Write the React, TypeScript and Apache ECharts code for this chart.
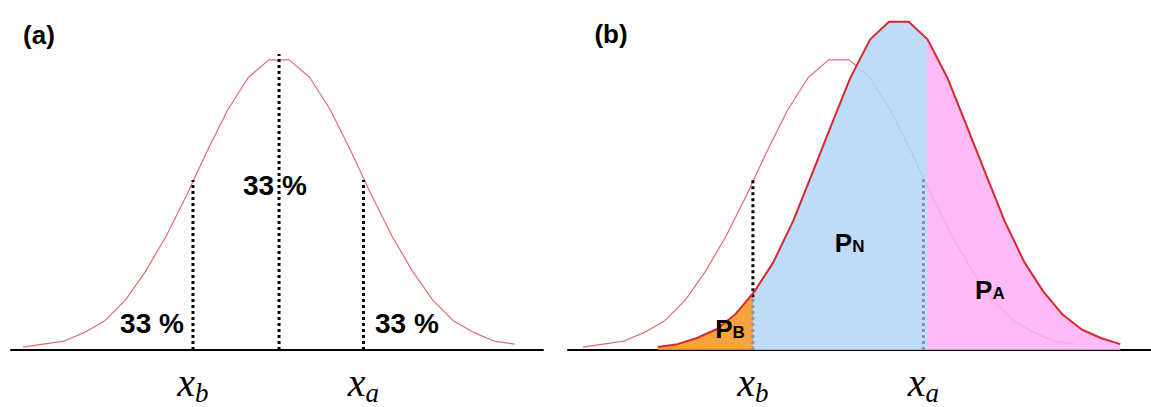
import React, { useEffect, useRef } from "react";
import * as echarts from "echarts";

// x in units of the original standard deviation, y relative to the original peak
const thinX = [-3.125, -2.875, -2.625, -2.375, -2.125, -1.875, -1.625, -1.375, -1.125, -0.875, -0.625, -0.375, -0.125,
  0.125, 0.375, 0.625, 0.875, 1.125, 1.375, 1.625, 1.875, 2.125, 2.375, 2.625, 2.875];
const thinY = [0.01, 0.02, 0.03, 0.06, 0.1, 0.17, 0.27, 0.39, 0.53, 0.68, 0.82, 0.93, 0.99,
  0.99, 0.93, 0.82, 0.68, 0.53, 0.39, 0.27, 0.17, 0.1, 0.06, 0.03, 0.02];

const thickX = [-2.21, -1.97, -1.74, -1.5, -1.27, -1.03, -0.8, -0.56, -0.33, -0.09, 0.14, 0.38, 0.61,
  0.85, 1.08, 1.32, 1.55, 1.79, 2.02, 2.26, 2.49, 2.73, 2.96, 3.2, 3.43];
const thickY = [0.01, 0.02, 0.04, 0.07, 0.12, 0.2, 0.3, 0.44, 0.6, 0.77, 0.93, 1.06, 1.12,
  1.12, 1.06, 0.93, 0.77, 0.6, 0.44, 0.3, 0.2, 0.12, 0.07, 0.04, 0.02];

const xb = -1.05;
const xa = 1.03;
const meanX = 0;
const fillSplit = [-1.05, 1.07];

// dotted lines: [x, yFrom, yTo]
const dottedA = [
  [xb, 0, 0.58],
  [meanX, 0, 1.01],
  [xa, 0, 0.58],
];
const dottedBBlack = [[xb, 0.18, 0.58]];
const dottedBGrey = [
  [xb, 0, 0.18],
  [xa, 0, 0.59],
];

const pctLabels = ["33 %", "33 %", "33 %"];
const pctPos = [
  [-1.55, 0.092],
  [-0.05, 0.563],
  [1.56, 0.092],
];
const pLabels = ["B", "N", "A"];
const pPos = [
  [-1.33, 0.072],
  [0.13, 0.365],
  [1.84, 0.205],
];

const SANS = '"Liberation Sans", Arial, Helvetica, sans-serif';
const SERIF = '"Liberation Serif", "Times New Roman", serif';

export default function App() {
  const ref = useRef<HTMLDivElement>(null);
  useEffect(() => {
    document.body.style.margin = "0";
    const chart = echarts.init(ref.current!, null, { renderer: "svg" });
    const zip = (xs: number[], ys: number[]) => xs.map((x, i) => [x, ys[i]]);
    const thin = zip(thinX, thinY);
    const thick = zip(thickX, thickY);

    const xAxisBase = (gridIndex: number, min: number, max: number) => ({
      type: "value",
      gridIndex,
      min,
      max,
      splitLine: { show: false },
      axisTick: { show: false },
      axisLine: { show: true, onZero: true, lineStyle: { color: "#000", width: 2 } },
      axisLabel: {
        customValues: [xb, xa],
        margin: 16,
        formatter: (v: number) => (v < 0 ? "{x|x}{s|b}" : "{x|x}{s|a}"),
        rich: {
          x: {
            fontFamily: SERIF,
            fontStyle: "italic",
            fontSize: 40,
            lineHeight: 40,
            padding: [0, 0, 4, 0],
            verticalAlign: "bottom",
            color: "#000",
          },
          s: {
            fontFamily: SERIF,
            fontStyle: "italic",
            fontSize: 27,
            lineHeight: 27,
            verticalAlign: "bottom",
            color: "#000",
          },
        },
      },
    });
    const yAxisBase = (gridIndex: number) => ({
      type: "value",
      gridIndex,
      min: 0,
      max: 1.15,
      show: false,
      splitLine: { show: false },
    });

    const dotted = (seg: number[], idx: number, color: string, z: number) => ({
      type: "line",
      xAxisIndex: idx,
      yAxisIndex: idx,
      data: [
        [seg[0], seg[1]],
        [seg[0], seg[2]],
      ],
      symbol: "none",
      silent: true,
      z,
      lineStyle: { color, width: 3, type: [3, 3] },
    });

    const series: any[] = [];
    // Panel (a)
    series.push({
      type: "line",
      xAxisIndex: 0,
      yAxisIndex: 0,
      data: thin,
      symbol: "none",
      z: 2,
      lineStyle: { color: "#E46C72", width: 1.2 },
    });
    dottedA.forEach((s) => series.push(dotted(s, 0, "#000", 3)));
    series.push({
      type: "scatter",
      xAxisIndex: 0,
      yAxisIndex: 0,
      symbolSize: 0,
      z: 5,
      itemStyle: { opacity: 1 },
      data: pctPos.map((p, i) => ({ value: p, name: pctLabels[i] })),
      label: {
        show: true,
        position: "inside",
        formatter: (p: any) => p.name,
        fontFamily: SANS,
        fontWeight: "bold",
        fontSize: 28,
        color: "#000",
        opacity: 1,
      },
    });
    // Panel (b)
    series.push({
      type: "line",
      xAxisIndex: 1,
      yAxisIndex: 1,
      data: thin,
      symbol: "none",
      z: 2,
      lineStyle: { color: "#E46C72", width: 1.2 },
    });
    const fillIndex = series.length;
    series.push({
      type: "line",
      xAxisIndex: 1,
      yAxisIndex: 1,
      data: thick,
      symbol: "none",
      z: 3,
      lineStyle: { width: 0 },
      areaStyle: { opacity: 0.85 },
    });
    dottedBGrey.forEach((s) => series.push(dotted(s, 1, "#8497AE", 4)));
    dottedBBlack.forEach((s) => series.push(dotted(s, 1, "#000", 4)));
    series.push({
      type: "line",
      xAxisIndex: 1,
      yAxisIndex: 1,
      data: thick,
      symbol: "none",
      z: 6,
      lineStyle: { color: "#D8282E", width: 2 },
    });
    series.push({
      type: "scatter",
      xAxisIndex: 1,
      yAxisIndex: 1,
      symbolSize: 0,
      z: 7,
      itemStyle: { opacity: 1 },
      data: pPos.map((p, i) => ({ value: p, name: pLabels[i] })),
      label: {
        show: true,
        position: "inside",
        opacity: 1,
        formatter: (p: any) => "{p|P}{s|" + p.name + "}",
        rich: {
          p: { fontFamily: SANS, fontWeight: "bold", fontSize: 26, lineHeight: 26, verticalAlign: "bottom", color: "#000" },
          s: { fontFamily: SANS, fontWeight: "bold", fontSize: 17, lineHeight: 17, verticalAlign: "bottom", color: "#000", padding: [0, 0, 1, 0] },
        },
      },
    });

    chart.setOption({
      animation: false,
      backgroundColor: "#fff",
      grid: [
        { left: 11, width: 532, top: 13, bottom: 57, containLabel: false, outerBoundsMode: "none" },
        { left: 568, width: 583, top: 13, bottom: 57, containLabel: false, outerBoundsMode: "none" },
      ],
      xAxis: [xAxisBase(0, -3.27, 3.22), xAxisBase(1, -3.305, 3.805)],
      yAxis: [yAxisBase(0), yAxisBase(1)],
      visualMap: [
        {
          type: "piecewise",
          show: false,
          dimension: 0,
          seriesIndex: fillIndex,
          pieces: [
            { lt: fillSplit[0], color: "#F6931D" },
            { gte: fillSplit[0], lt: fillSplit[1], color: "#B2D6F8" },
            { gte: fillSplit[1], color: "#FFAFF7" },
          ],
        },
      ],
      graphic: [
        { type: "text", x: 39, y: 35, style: { text: "(a)", font: 'bold 26px "Liberation Sans", Arial, sans-serif', fill: "#000", align: "center", verticalAlign: "middle" } },
        { type: "text", x: 611, y: 34, style: { text: "(b)", font: 'bold 26px "Liberation Sans", Arial, sans-serif', fill: "#000", align: "center", verticalAlign: "middle" } },
      ],
      series,
    });
    return () => chart.dispose();
  }, []);
  return <div ref={ref} style={{ position: "absolute", left: 0, top: 0, width: 1151, height: 407 }} />;
}
